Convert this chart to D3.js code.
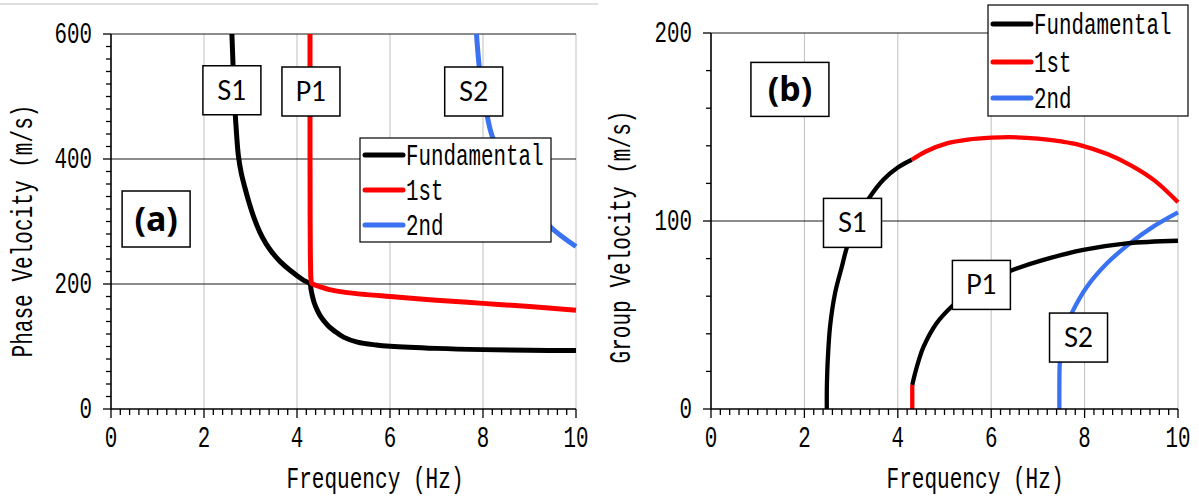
<!DOCTYPE html>
<html>
<head>
<meta charset="utf-8">
<script src="https://cdn.jsdelivr.net/npm/d3@7"></script>
<style>
  html, body { margin: 0; padding: 0; background: #fff; }
  svg { display: block; }
</style>
</head>
<body>
<svg id="chart" width="1199" height="498"></svg>
<script>
// ---------- data ----------
const freqTicks = [0, 2, 4, 6, 8, 10];
const phaseTicks = [0, 200, 400, 600];
const groupTicks = [0, 100, 200];
const seriesNames = ["Fundamental", "1st", "2nd"];
const seriesColors = ["#000000", "#ff0000", "#3a72f2"];

// (a) phase velocity [frequency Hz, velocity m/s]
const phaseFundamental = [
  [2.60, 600], [2.63, 540], [2.66, 488], [2.70, 440], [2.74, 405], [2.80, 378],
  [2.88, 354], [2.97, 330], [3.08, 305], [3.20, 283], [3.33, 265], [3.46, 251],
  [3.65, 235], [3.85, 222], [4.14, 206], [4.28, 200],
  [4.30, 192], [4.33, 181], [4.37, 170], [4.43, 159], [4.50, 149], [4.60, 139],
  [4.70, 131], [4.80, 125], [5.00, 115], [5.30, 107], [5.70, 102.5], [6.00, 100.5],
  [7.00, 97], [8.00, 95], [9.00, 94], [10.0, 93.5]
];
const phaseFirst = [
  [4.28, 600], [4.28, 400], [4.283, 300], [4.287, 250], [4.293, 222], [4.30, 208],
  [4.32, 201], [4.40, 198], [4.50, 195.5], [4.70, 191], [5.00, 187], [5.50, 183],
  [6.00, 180], [7.00, 174], [8.00, 169], [9.00, 164], [10.0, 158]
];
const phaseSecond = [
  [7.86, 600], [7.92, 547], [8.00, 505], [8.09, 469], [8.20, 436], [8.50, 390],
  [9.00, 333], [9.44, 292], [10.0, 260]
];

// (b) group velocity [frequency Hz, velocity m/s]
const groupS1Fundamental = [
  [2.48, 0], [2.48, 10], [2.49, 20], [2.50, 26], [2.55, 44], [2.66, 62],
  [2.80, 75.5], [2.91, 86], [3.05, 95], [3.20, 104], [3.38, 112], [3.69, 122],
  [4.00, 128.5], [4.30, 132.6]
];
const groupS1First = [
  [4.30, 132.6], [4.60, 137], [5.05, 141.3], [5.50, 143.3], [6.00, 144.3],
  [6.40, 144.6], [7.00, 143.8], [7.50, 142.3], [7.90, 140.4], [8.50, 135.5],
  [9.00, 129.5], [9.50, 121.5], [10.0, 110]
];
const groupP1First = [[4.31, 0], [4.31, 12.8]];
const groupP1Fundamental = [
  [4.31, 12.8], [4.37, 19], [4.45, 26], [4.55, 33], [4.83, 45.6], [5.15, 54.4],
  [5.50, 61.5], [6.00, 69], [6.50, 74.3], [7.12, 79.3], [7.97, 84.6], [8.90, 88.1],
  [10.0, 89.5]
];
const groupSecond = [
  [7.46, 0], [7.46, 12], [7.47, 25], [7.52, 35], [7.62, 45], [7.74, 51.8],
  [8.05, 65], [8.48, 77.5], [8.97, 88.1], [9.47, 97], [10.0, 104.6]
];

// mode labels: [text, frequency, velocity]
const modeLabelsA = [["S1", 2.60, 510], ["P1", 4.30, 508], ["S2", 7.80, 508]];
const modeLabelsB = [["S1", 3.03, 99], ["P1", 5.79, 66], ["S2", 7.87, 38]];

// ---------- drawing ----------
const svg = d3.select("#chart");
const monoFont = "'Liberation Mono', 'DejaVu Sans Mono', monospace";
const capHeight = 19;

// narrow, tall monospace text: the font size sets the advance, a vertical
// scale brings the glyphs up to the wanted cap height
function monoText(g, str, x, y, anchor, advance, rotate) {
  const adv = advance || 12.5;
  const size = adv / 0.6;
  const sy = capHeight / (0.659 * size);
  return g.append("text")
    .attr("transform", `translate(${x},${y})${rotate ? " rotate(-90)" : ""} scale(1,${sy.toFixed(3)})`)
    .attr("text-anchor", anchor || "start")
    .attr("font-family", monoFont)
    .attr("font-size", size.toFixed(2))
    .attr("fill", "#000")
    .text(str);
}

// thin rule across the top of the left half
svg.append("line")
  .attr("x1", 0).attr("x2", 598).attr("y1", 4).attr("y2", 4)
  .attr("stroke", "#d4d4d4").attr("stroke-width", 1.5);

function drawPanel(opt) {
  const g = svg.append("g");
  const x = d3.scaleLinear().domain([0, 10]).range(opt.xRange);
  const y = d3.scaleLinear().domain([0, opt.yMax]).range([409, opt.yTop]);

  // vertical grid
  g.append("g").selectAll("line")
    .data(freqTicks.slice(1))
    .join("line")
    .attr("x1", d => x(d)).attr("x2", d => x(d))
    .attr("y1", y(0)).attr("y2", y(opt.yMax))
    .attr("stroke", "#bfbfbf").attr("stroke-width", 1);

  // horizontal grid
  g.append("g").selectAll("line")
    .data(opt.yTicks.slice(1))
    .join("line")
    .attr("x1", x(0)).attr("x2", x(10))
    .attr("y1", d => y(d)).attr("y2", d => y(d))
    .attr("stroke", "#1a1a1a").attr("stroke-width", 1);

  // curves
  const line = d3.line()
    .x(d => x(d[0])).y(d => y(d[1]))
    .curve(d3.curveCatmullRom.alpha(0.5));
  opt.curves.forEach(c => {
    g.append("path")
      .attr("d", line(c.data))
      .attr("fill", "none")
      .attr("stroke", c.color)
      .attr("stroke-width", opt.lineWidth)
      .attr("stroke-linejoin", "round");
  });

  // ticks
  const minorX = d3.range(0, 10.001, 0.2);
  const minorY = d3.range(0, opt.yMax + 0.001, 20);
  const axisG = g.append("g");
  axisG.selectAll(".mx").data(minorX).join("line")
    .attr("x1", d => x(d)).attr("x2", d => x(d))
    .attr("y1", y(0)).attr("y2", d => y(0) + (Math.abs(d / 2 - Math.round(d / 2)) < 1e-6 ? 9 : 6))
    .attr("stroke", "#000").attr("stroke-width", 1.3);
  axisG.selectAll(".my").data(minorY).join("line")
    .attr("y1", d => y(d)).attr("y2", d => y(d))
    .attr("x1", x(0)).attr("x2", d => x(0) - (opt.yTicks.includes(d) ? 8 : 5))
    .attr("stroke", "#000").attr("stroke-width", 1.3);

  // axis lines
  axisG.append("line")
    .attr("x1", x(0)).attr("x2", x(0)).attr("y1", y(0)).attr("y2", y(opt.yMax))
    .attr("stroke", "#000").attr("stroke-width", 1.6);
  axisG.append("line")
    .attr("x1", x(0)).attr("x2", x(10)).attr("y1", y(0)).attr("y2", y(0))
    .attr("stroke", "#000").attr("stroke-width", 1.6);

  // tick labels
  freqTicks.forEach(t => monoText(g, String(t), x(t), 447, "middle"));
  opt.yTicks.forEach(t => monoText(g, String(t), x(0) - 19, y(t) + 9, "end"));

  // axis titles
  monoText(g, "Frequency (Hz)", opt.xTitleX, 488, "middle", 12.65);
  monoText(g, opt.yTitle, opt.yTitleX, opt.yTitleY, "middle", 12.65, true);

  // mode label boxes
  const boxW = 58, boxH = 49;
  opt.labels.forEach(([txt, f, v]) => {
    const cx = x(f), cy = y(v);
    g.append("rect")
      .attr("x", cx - boxW / 2).attr("y", cy - boxH / 2)
      .attr("width", boxW).attr("height", boxH)
      .attr("fill", "#fff").attr("stroke", "#000").attr("stroke-width", 1.5);
    g.append("text")
      .attr("x", cx).attr("y", cy + 9.5)
      .attr("text-anchor", "middle")
      .attr("font-family", "Lato, 'Open Sans', sans-serif")
      .attr("font-size", 26)
      .attr("fill", "#000")
      .text(txt);
  });

  // panel tag
  const [tag, tf, tv, tw, th] = opt.tag;
  g.append("rect")
    .attr("x", x(tf) - tw / 2).attr("y", y(tv) - th / 2)
    .attr("width", tw).attr("height", th)
    .attr("fill", "#fff").attr("stroke", "#000").attr("stroke-width", 1.5);
  g.append("text")
    .attr("x", x(tf)).attr("y", y(tv) + 12)
    .attr("text-anchor", "middle")
    .attr("font-family", "'Noto Sans', 'Open Sans', sans-serif")
    .attr("font-weight", "bold")
    .attr("font-size", 34)
    .attr("fill", "#000")
    .text(tag);

  // legend
  const L = opt.legend;
  const lg = g.append("g");
  lg.append("rect")
    .attr("x", L.x).attr("y", L.y).attr("width", L.w).attr("height", L.h)
    .attr("fill", "#fff").attr("stroke", "#000").attr("stroke-width", 1.2);
  seriesNames.forEach((name, i) => {
    const ry = L.rows[i];
    lg.append("line")
      .attr("x1", L.x + 5).attr("x2", L.x + 43)
      .attr("y1", ry).attr("y2", ry)
      .attr("stroke", seriesColors[i]).attr("stroke-width", 5)
      .attr("stroke-linecap", "round");
    monoText(lg, name, L.x + 46, ry + 9.5, "start");
  });
}

drawPanel({
  xRange: [111, 576], yTop: 34, yMax: 600, yTicks: phaseTicks,
  yTitle: "Phase Velocity (m/s)", yTitleX: 32, yTitleY: 231, xTitleX: 375,
  lineWidth: 5,
  curves: [
    { data: phaseSecond, color: seriesColors[2] },
    { data: phaseFundamental, color: seriesColors[0] },
    { data: phaseFirst, color: seriesColors[1] }
  ],
  labels: modeLabelsA,
  tag: ["(a)", 0.97, 304, 68, 56],
  legend: { x: 360, y: 138, w: 191, h: 104, rows: [155, 190, 225] }
});

drawPanel({
  xRange: [711, 1178], yTop: 33, yMax: 200, yTicks: groupTicks,
  yTitle: "Group Velocity (m/s)", yTitleX: 630, yTitleY: 237, xTitleX: 975,
  lineWidth: 4.3,
  curves: [
    { data: groupSecond, color: seriesColors[2] },
    { data: groupS1Fundamental, color: seriesColors[0] },
    { data: groupS1First, color: seriesColors[1] },
    { data: groupP1Fundamental, color: seriesColors[0] },
    { data: groupP1First, color: seriesColors[1] }
  ],
  labels: modeLabelsB,
  tag: ["(b)", 1.69, 170, 78, 54],
  legend: { x: 988, y: 5, w: 200, h: 111, rows: [24, 62, 98] }
});
</script>
</body>
</html>
